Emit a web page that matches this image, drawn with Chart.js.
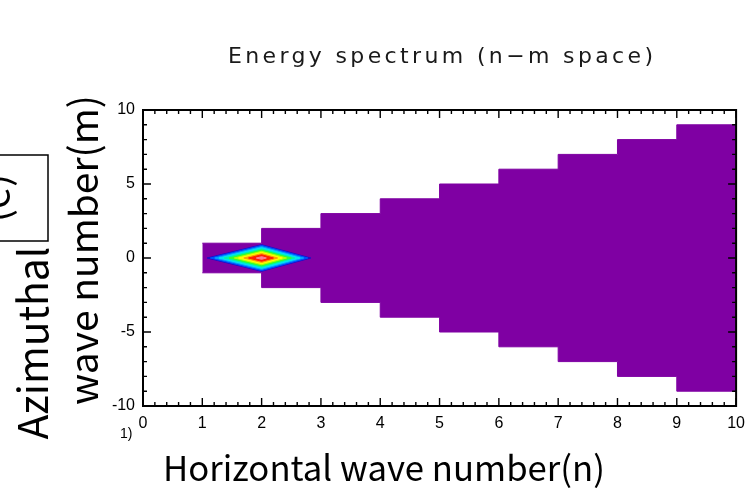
<!DOCTYPE html>
<html><head><meta charset="utf-8">
<script src="https://cdn.jsdelivr.net/npm/chart.js@4"></script>
<style>html,body{margin:0;padding:0;background:#fff;overflow:hidden}#wrap{width:753px;height:492px;position:relative}</style>
</head><body><div id="wrap"><canvas id="c" width="753" height="492"></canvas></div>
<script>
// ---- data ----
const xTickValues = [0, 1, 2, 3, 4, 5, 6, 7, 8, 9, 10];
const xTickLabels = ['0', '1', '2', '3', '4', '5', '6', '7', '8', '9', '10'];
const yTickValues = [-10, -5, 0, 5, 10];
const yTickLabels = ['-10', '-5', '0', '5', '10'];

// stepped outline of the non-zero (purple) region
const stepN      = [1, 2, 3, 4, 5, 6, 7, 8, 9, 10];
const stepTop    = [1, 2, 3, 4, 5, 6, 7, 8, 9, 9];
const stepBottom = [-1, -2, -3, -4, -5, -6, -7, -8, -9, -9];

// contour levels of the energy peak near (n=2, m=0): outermost first
const peakN = 2.0;
const peakM = 0;
const levelLeft  = [1.08, 1.135, 1.21, 1.28, 1.37, 1.45, 1.54, 1.61, 1.70, 1.78, 1.91];
const levelRight = [2.83, 2.78, 2.71, 2.65, 2.56, 2.50, 2.42, 2.35, 2.27, 2.20, 2.08];
const levelHalf  = [0.90, 0.85, 0.77, 0.70, 0.61, 0.54, 0.45, 0.38, 0.30, 0.22, 0.09];
const levelColors = ['#1a10c8', '#0050ff', '#00a0ff', '#00e4f4', '#00f4a8', '#30ff30',
                     '#b4ff00', '#ffff00', '#ffa000', '#ff2000', '#ff7a98'];

const regionColor = 'rgb(127,0,163)';

const titleText = 'Energy spectrum (n\u2212m space)';
const xTitle = 'Horizontal wave number(n)';
const yTitle1 = 'Azimuthal';
const yTitle2 = 'wave number(m)';
const panelText = '(e)';
const cornerText = '1)';

// ---- datasets ----
const datasets = [];
datasets.push({
  type: 'line', data: stepN.map((n, i) => ({x: n, y: stepTop[i]})),
  stepped: 'before', fill: '+1', backgroundColor: regionColor, borderColor: regionColor,
  borderWidth: 1, pointRadius: 0, order: 100
});
datasets.push({
  type: 'line', data: stepN.map((n, i) => ({x: n, y: stepBottom[i]})),
  stepped: 'before', fill: false, backgroundColor: regionColor, borderColor: regionColor,
  borderWidth: 1, pointRadius: 0, order: 100
});
levelLeft.forEach((l, i) => {
  const col = levelColors[i];
  datasets.push({
    type: 'line',
    data: [{x: l, y: peakM}, {x: peakN, y: peakM + levelHalf[i]}, {x: levelRight[i], y: peakM}],
    fill: '+1', backgroundColor: col, borderColor: col, borderWidth: 1, pointRadius: 0,
    tension: 0, order: 50 - i
  });
  datasets.push({
    type: 'line',
    data: [{x: l, y: peakM}, {x: peakN, y: peakM - levelHalf[i]}, {x: levelRight[i], y: peakM}],
    fill: false, backgroundColor: col, borderColor: col, borderWidth: 1, pointRadius: 0,
    tension: 0, order: 50 - i
  });
});

// ---- frame with inward major/minor ticks ----
const framePlugin = {
  id: 'frame',
  afterDatasetsDraw(chart) {
    const ctx = chart.ctx, a = chart.chartArea;
    const xs = chart.scales.x, ys = chart.scales.y;
    ctx.save();
    ctx.strokeStyle = '#000';
    ctx.lineWidth = 1.4;
    ctx.beginPath();
    for (let k = 0; k <= 50; k++) {
      const v = k / 5;
      const px = xs.getPixelForValue(v);
      const len = (k % 5 === 0) ? 8 : 4;
      ctx.moveTo(px, a.bottom); ctx.lineTo(px, a.bottom - len);
      ctx.moveTo(px, a.top); ctx.lineTo(px, a.top + len);
    }
    for (let m = -10; m <= 10; m++) {
      const py = ys.getPixelForValue(m);
      const len = (m % 5 === 0) ? 8 : 4;
      ctx.moveTo(a.left, py); ctx.lineTo(a.left + len, py);
      ctx.moveTo(a.right, py); ctx.lineTo(a.right - len, py);
    }
    ctx.stroke();
    ctx.lineWidth = 2;
    ctx.strokeRect(a.left, a.top, a.right - a.left, a.bottom - a.top);
    ctx.restore();
  }
};

// ---- texts ----
function fitSize(ctx, text, family, base, target) {
  ctx.font = base + 'px ' + family;
  return base * target / ctx.measureText(text).width;
}
const textPlugin = {
  id: 'texts',
  afterDraw(chart) {
    const ctx = chart.ctx;
    const big = '"Noto Sans CJK JP", "Noto Sans", sans-serif';
    ctx.save();
    ctx.fillStyle = '#1a1a1a';
    // title with letter spacing
    ctx.font = '22px "DejaVu Sans"';
    const tw = ctx.measureText(titleText).width;
    const sp = Math.max(0, (425 - tw) / (titleText.length - 1));
    ctx.letterSpacing = sp + 'px';
    ctx.textAlign = 'left';
    ctx.textBaseline = 'alphabetic';
    ctx.fillText(titleText, 228, 63);
    ctx.letterSpacing = '0px';

    ctx.fillStyle = '#000';
    // x title
    let s = fitSize(ctx, xTitle, big, 40, 442);
    ctx.font = s + 'px ' + big;
    ctx.textAlign = 'left';
    ctx.fillText(xTitle, 163, 481);

    // y titles (rotated)
    ctx.textAlign = 'center';
    s = fitSize(ctx, yTitle1, big, 40, 193);
    ctx.save(); ctx.translate(48, 343); ctx.rotate(-Math.PI / 2);
    ctx.font = s + 'px ' + big; ctx.fillText(yTitle1, 0, 0); ctx.restore();
    s = fitSize(ctx, yTitle2, big, 40, 310);
    ctx.save(); ctx.translate(98, 250); ctx.rotate(-Math.PI / 2);
    ctx.font = s + 'px ' + big; ctx.fillText(yTitle2, 0, 0); ctx.restore();

    // panel box
    ctx.lineWidth = 1.5; ctx.strokeStyle = '#000';
    ctx.strokeRect(-2, 155, 50, 86);
    ctx.save(); ctx.translate(9, 198); ctx.rotate(-Math.PI / 2);
    ctx.font = '40px ' + big; ctx.fillText(panelText, 0, 0); ctx.restore();

    // small fragment
    ctx.font = '14px "Liberation Sans", Arial, sans-serif';
    ctx.textAlign = 'left';
    ctx.fillText(cornerText, 120, 438);
    ctx.restore();
  }
};

new Chart(document.getElementById('c'), {
  type: 'line',
  data: { datasets },
  options: {
    responsive: false, animation: false, devicePixelRatio: 1,
    layout: { padding: { left: 103, right: 16, top: 110, bottom: 56 } },
    plugins: { legend: { display: false }, tooltip: { enabled: false }, title: { display: false } },
    scales: {
      x: {
        type: 'linear', min: 0, max: 10, offset: false,
        grid: { display: false, drawTicks: false }, border: { display: false },
        afterBuildTicks: sc => { sc.ticks = xTickValues.map(v => ({ value: v })); },
        ticks: {
          callback: v => xTickLabels[xTickValues.indexOf(v)],
          font: { family: '"Liberation Sans", Arial, sans-serif', size: 16 },
          color: '#000', padding: 8, maxRotation: 0, autoSkip: false
        },
        afterFit: sc => { sc.height = 30; }
      },
      y: {
        type: 'linear', min: -10, max: 10,
        grid: { display: false, drawTicks: false }, border: { display: false },
        afterBuildTicks: sc => { sc.ticks = yTickValues.map(v => ({ value: v })); },
        ticks: {
          callback: v => yTickLabels[yTickValues.indexOf(v)],
          font: { family: '"Liberation Sans", Arial, sans-serif', size: 16 },
          color: '#000', padding: 8, autoSkip: false
        },
        afterFit: sc => { sc.width = 40; }
      }
    }
  },
  plugins: [framePlugin, textPlugin]
});
</script></body></html>
